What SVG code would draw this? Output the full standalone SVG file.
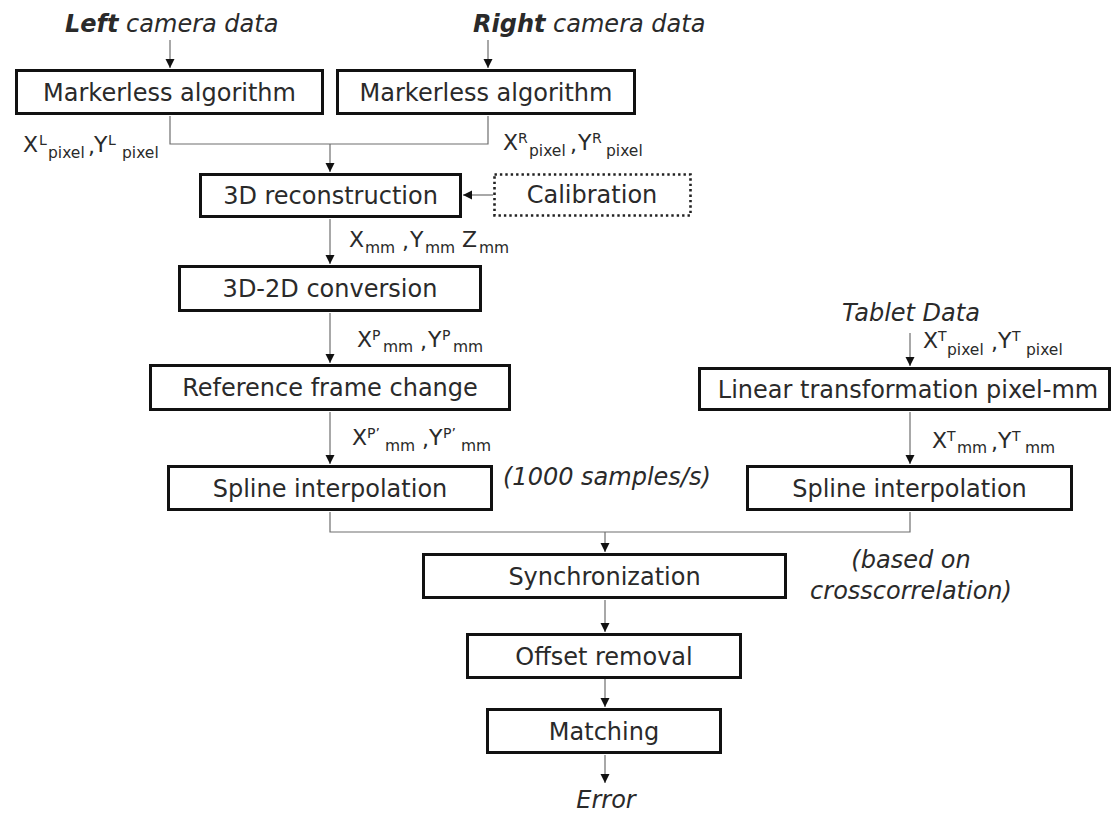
<svg xmlns="http://www.w3.org/2000/svg" width="1115" height="818" viewBox="0 0 1115 818">
  <style>
    .box { fill: #ffffff; stroke: #111111; stroke-width: 3; }
    .dotted { fill: #ffffff; stroke: #222222; stroke-width: 2.6; stroke-dasharray: 2.4 3; }
    .t { font-family: "DejaVu Sans", Verdana, sans-serif; font-size: 24px; fill: #2a2a2a; text-anchor: middle; }
    .it { font-family: "DejaVu Sans", Verdana, sans-serif; font-size: 24px; font-style: italic; fill: #2a2a2a; }
    .b { font-weight: bold; }
    .lab { font-family: "DejaVu Sans", Verdana, sans-serif; font-size: 22px; fill: #2a2a2a; }
    .sup { font-size: 14px; }
    .sub { font-size: 15.5px; }
    .wire { fill: none; stroke: #6e6e6e; stroke-width: 1.2; }
    .arrow { fill: none; stroke: #6e6e6e; stroke-width: 1.2; marker-end: url(#head); }
  </style>
  <defs>
    <marker id="head" markerUnits="userSpaceOnUse" markerWidth="9" markerHeight="10" refX="9" refY="4.5" orient="auto">
      <path d="M0,0 L9,4.5 L0,9 z" fill="#111111"/>
    </marker>
  </defs>

  <rect width="1115" height="818" fill="#ffffff"/>

  <!-- connectors -->
  <g id="connectors">
    <line class="arrow" x1="170" y1="40" x2="170" y2="68"/>
    <line class="arrow" x1="488" y1="40" x2="488" y2="68"/>
    <polyline class="wire" points="170,116 170,144 488,144 488,116"/>
    <line class="arrow" x1="330" y1="144" x2="330" y2="172"/>
    <line class="arrow" x1="493" y1="195" x2="463" y2="195"/>
    <line class="arrow" x1="330" y1="219" x2="330" y2="264"/>
    <line class="arrow" x1="330" y1="313" x2="330" y2="363"/>
    <line class="arrow" x1="330" y1="412" x2="330" y2="464"/>
    <line class="arrow" x1="910" y1="333" x2="910" y2="366"/>
    <line class="arrow" x1="910" y1="412" x2="910" y2="464"/>
    <polyline class="wire" points="330,512 330,532 910,532 910,512"/>
    <line class="arrow" x1="605" y1="532" x2="605" y2="552"/>
    <line class="arrow" x1="605" y1="600" x2="605" y2="632"/>
    <line class="arrow" x1="605" y1="679" x2="605" y2="707"/>
    <line class="arrow" x1="605" y1="755" x2="605" y2="783"/>
  </g>

  <!-- inputs and annotations -->
  <g id="left-input">
    <text class="it" x="65" y="32"><tspan class="b">Left</tspan> camera data</text>
  </g>
  <g id="right-input">
    <text class="it" x="473" y="32"><tspan class="b">Right</tspan> camera data</text>
  </g>
  <g id="tablet-input">
    <text class="it" x="911" y="321" text-anchor="middle">Tablet Data</text>
  </g>
  <g id="error-output">
    <text class="it" x="606" y="808" text-anchor="middle">Error</text>
  </g>
  <g id="rate-note">
    <text class="it" x="503" y="485">(1000 samples/s)</text>
  </g>
  <g id="sync-note">
    <text class="it" x="911" y="568" text-anchor="middle">(based on</text>
    <text class="it" x="911" y="599" text-anchor="middle">crosscorrelation)</text>
  </g>

  <!-- process boxes -->
  <g id="markerless-left">
    <rect class="box" x="16.5" y="70.5" width="306" height="43"/>
    <text class="t" x="169.5" y="101">Markerless algorithm</text>
  </g>
  <g id="markerless-right">
    <rect class="box" x="337.5" y="70.5" width="297" height="43"/>
    <text class="t" x="486" y="101">Markerless algorithm</text>
  </g>
  <g id="reconstruction-3d">
    <rect class="box" x="200.5" y="174.5" width="260" height="42"/>
    <text class="t" x="330.5" y="204">3D reconstruction</text>
  </g>
  <g id="calibration">
    <rect class="dotted" x="494.5" y="174.5" width="196" height="41"/>
    <text class="t" x="592" y="203">Calibration</text>
  </g>
  <g id="conversion-3d-2d">
    <rect class="box" x="179.5" y="266.5" width="301" height="44"/>
    <text class="t" x="330" y="297">3D-2D conversion</text>
  </g>
  <g id="frame-change">
    <rect class="box" x="150.5" y="365.5" width="359" height="44"/>
    <text class="t" x="330" y="396">Reference frame change</text>
  </g>
  <g id="spline-left">
    <rect class="box" x="168.5" y="466.5" width="323" height="43"/>
    <text class="t" x="330" y="497">Spline interpolation</text>
  </g>
  <g id="linear-transform">
    <rect class="box" x="699.5" y="368.5" width="410" height="41"/>
    <text class="t" x="908" y="398">Linear transformation pixel-mm</text>
  </g>
  <g id="spline-right">
    <rect class="box" x="747.5" y="466.5" width="324" height="43"/>
    <text class="t" x="909.5" y="497">Spline interpolation</text>
  </g>
  <g id="synchronization">
    <rect class="box" x="423.5" y="554.5" width="362" height="43"/>
    <text class="t" x="604.5" y="585">Synchronization</text>
  </g>
  <g id="offset-removal">
    <rect class="box" x="467.5" y="634.5" width="273" height="43"/>
    <text class="t" x="604" y="665">Offset removal</text>
  </g>
  <g id="matching">
    <rect class="box" x="487.5" y="709.5" width="233" height="43"/>
    <text class="t" x="604" y="740">Matching</text>
  </g>

  <!-- coordinate labels -->
  <g id="labels">
    <text class="lab" y="152">
      <tspan x="23">X</tspan><tspan class="sup" x="39" y="145">L</tspan><tspan class="sub" x="48" y="158">pixel</tspan><tspan x="88" y="154">,</tspan><tspan x="94" y="152">Y</tspan><tspan class="sup" x="108" y="145">L</tspan><tspan class="sub" x="122" y="158">pixel</tspan>
    </text>
    <text class="lab" y="150">
      <tspan x="503">X</tspan><tspan class="sup" x="518" y="143">R</tspan><tspan class="sub" x="529" y="156">pixel</tspan><tspan x="570" y="152">,</tspan><tspan x="578" y="150">Y</tspan><tspan class="sup" x="592" y="143">R</tspan><tspan class="sub" x="606" y="156">pixel</tspan>
    </text>
    <text class="lab" y="247">
      <tspan x="349">X</tspan><tspan class="sub" x="365" y="253">mm</tspan><tspan x="402" y="249">,</tspan><tspan x="410" y="247">Y</tspan><tspan class="sub" x="425" y="253">mm</tspan><tspan x="462" y="247">Z</tspan><tspan class="sub" x="479" y="253">mm</tspan>
    </text>
    <text class="lab" y="347">
      <tspan x="357">X</tspan><tspan class="sup" x="372" y="340">P</tspan><tspan class="sub" x="383" y="352">mm</tspan><tspan x="420" y="349">,</tspan><tspan x="428" y="347">Y</tspan><tspan class="sup" x="442" y="340">P</tspan><tspan class="sub" x="453" y="352">mm</tspan>
    </text>
    <text class="lab" y="445">
      <tspan x="352">X</tspan><tspan class="sup" x="367" y="438">P’</tspan><tspan class="sub" x="385" y="451">mm</tspan><tspan x="422" y="447">,</tspan><tspan x="429" y="445">Y</tspan><tspan class="sup" x="443" y="438">P’</tspan><tspan class="sub" x="461" y="451">mm</tspan>
    </text>
    <text class="lab" y="348">
      <tspan x="923">X</tspan><tspan class="sup" x="938" y="341">T</tspan><tspan class="sub" x="947" y="355">pixel</tspan><tspan x="991" y="350">,</tspan><tspan x="998" y="348">Y</tspan><tspan class="sup" x="1012" y="341">T</tspan><tspan class="sub" x="1026" y="355">pixel</tspan>
    </text>
    <text class="lab" y="448">
      <tspan x="932">X</tspan><tspan class="sup" x="947" y="441">T</tspan><tspan class="sub" x="957" y="453">mm</tspan><tspan x="991" y="450">,</tspan><tspan x="998" y="448">Y</tspan><tspan class="sup" x="1012" y="441">T</tspan><tspan class="sub" x="1025" y="453">mm</tspan>
    </text>
  </g>
</svg>
